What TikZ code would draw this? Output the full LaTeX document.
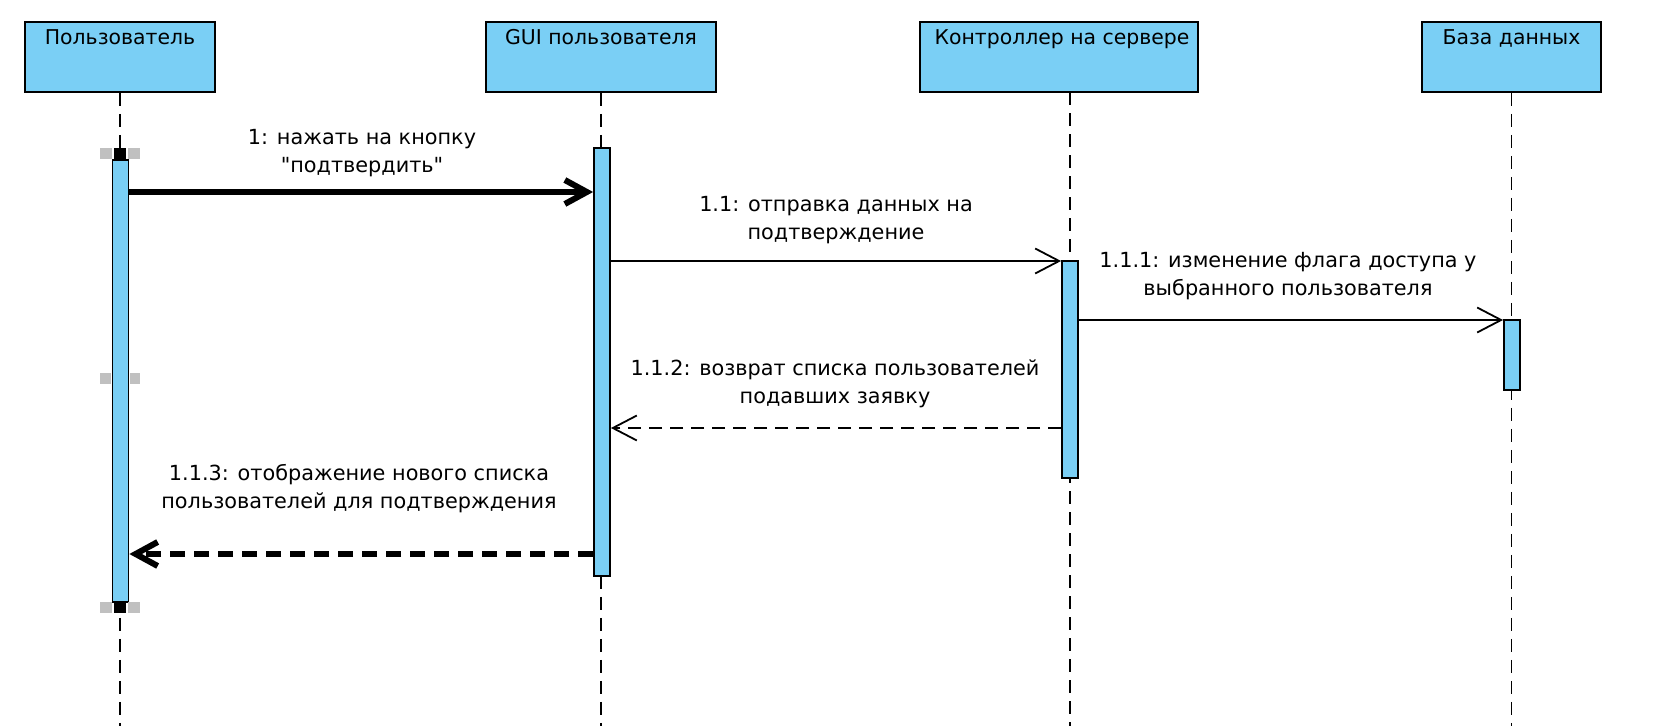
\documentclass[tikz,border=0pt]{standalone}
\usepackage{fontspec}
\newfontfamily\dvfont{DejaVu Sans}
\usetikzlibrary{arrows.meta}
\definecolor{actfill}{RGB}{122,207,245}
\definecolor{handle}{RGB}{192,192,192}
\tikzset{
  headbox/.style={draw=black, line width=1.8pt, fill=actfill, inner sep=0pt, minimum height=70pt},
  headtext/.style={anchor=base, inner sep=0pt, font=\dvfont\fontsize{20.4pt}{28pt}\selectfont},
  actbar/.style={draw=black, line width=1.8pt, fill=actfill, inner sep=0pt, minimum width=16pt},
  lifeline/.style={draw=black, line width=1.8pt, dash pattern=on 13pt off 8pt},
  msglabel/.style={anchor=base, inner sep=0pt, align=center, font=\dvfont\fontsize{20.8pt}{28pt}\selectfont},
  syncmsg/.style={draw=black, line width=1.8pt, -{Straight Barb[length=24pt,width=25pt]}},
  thicksync/.style={draw=black, line width=6pt, -{Straight Barb[length=22pt,width=24pt]}},
  replymsg/.style={draw=black, line width=1.8pt, dash pattern=on 13pt off 8pt, -{Straight Barb[length=24pt,width=25pt]}},
  thickreply/.style={draw=black, line width=6pt, dash pattern=on 15pt off 9pt, -{Straight Barb[length=22pt,width=24pt]}}
}
\begin{document}
\begin{tikzpicture}[x=1pt,y=-1pt]
\useasboundingbox (0,0) rectangle (1658,726);
\fill[white] (0,0) rectangle (1658,726);

% head boxes
\node[headbox, minimum width=190pt] (b1) at (120,57) {};
\node[headbox, minimum width=230pt] (b2) at (601,57) {};
\node[headbox, minimum width=278pt] (b3) at (1059,57) {};
\node[headbox, minimum width=179pt] (b4) at (1511.5,57) {};
\node[headtext] (t1) at (120,44) {Пользователь};
\node[headtext] (t2) at (601,44) {GUI пользователя};
\node[headtext] (t3) at (1062,44) {Контроллер на сервере};
\node[headtext] (t4) at (1511.5,44) {База данных};

% lifeline ends
\coordinate (s3) at (1070,92);
\coordinate (e1) at (120,726);
\coordinate (e2) at (601,726);
\coordinate (e3) at (1070,726);
\coordinate (e4) at (1511.5,726);
\draw[lifeline] (b1.south) -- (e1);
\draw[lifeline] (b2.south) -- (e2);
\draw[lifeline] (s3) -- (e3);
\draw[lifeline] (b4.south) -- (e4);

% activation bars
\node[actbar, minimum height=442pt] (a1) at (120.5,381) {};
\node[actbar, minimum height=428pt] (a2) at (602,362) {};
\node[actbar, minimum height=217pt] (a3) at (1070,369.5) {};
\node[actbar, minimum height=70pt] (a4) at (1512,355) {};

% selection handles
\fill[handle] (100,148) rectangle (112,159);
\fill[black] (114,148) rectangle (126,159);
\fill[handle] (128,148) rectangle (140,159);
\fill[handle] (100,373) rectangle (111,384);
\fill[handle] (130,373) rectangle (140,384);
\fill[handle] (100,602) rectangle (112,613);
\fill[black] (114,602) rectangle (126,613);
\fill[handle] (128,602) rectangle (140,613);

% messages
\draw[thicksync] (a1.east |- 0,192) -- (a2.west |- 0,192);
\draw[syncmsg] (a2.east |- 0,261) -- (a3.west |- 0,261);
\draw[syncmsg] (a3.east |- 0,320) -- (a4.west |- 0,320);
\draw[replymsg] (a3.west |- 0,428) -- (a2.east |- 0,428);
\draw[thickreply] (a2.west |- 0,554) -- (a1.east |- 0,554);

% labels (anchor = baseline of the last line)
\node[msglabel] (l1) at (362,172) {1: нажать на кнопку\\"подтвердить"};
\node[msglabel] (l2) at (836,239) {1.1: отправка данных на\\подтверждение};
\node[msglabel] (l3) at (1288,295) {1.1.1: изменение флага доступа у\\выбранного пользователя};
\node[msglabel] (l4) at (835,403) {1.1.2: возврат списка пользователей\\подавших заявку};
\node[msglabel] (l5) at (359,508) {1.1.3: отображение нового списка\\пользователей для подтверждения};
\end{tikzpicture}
\end{document}
